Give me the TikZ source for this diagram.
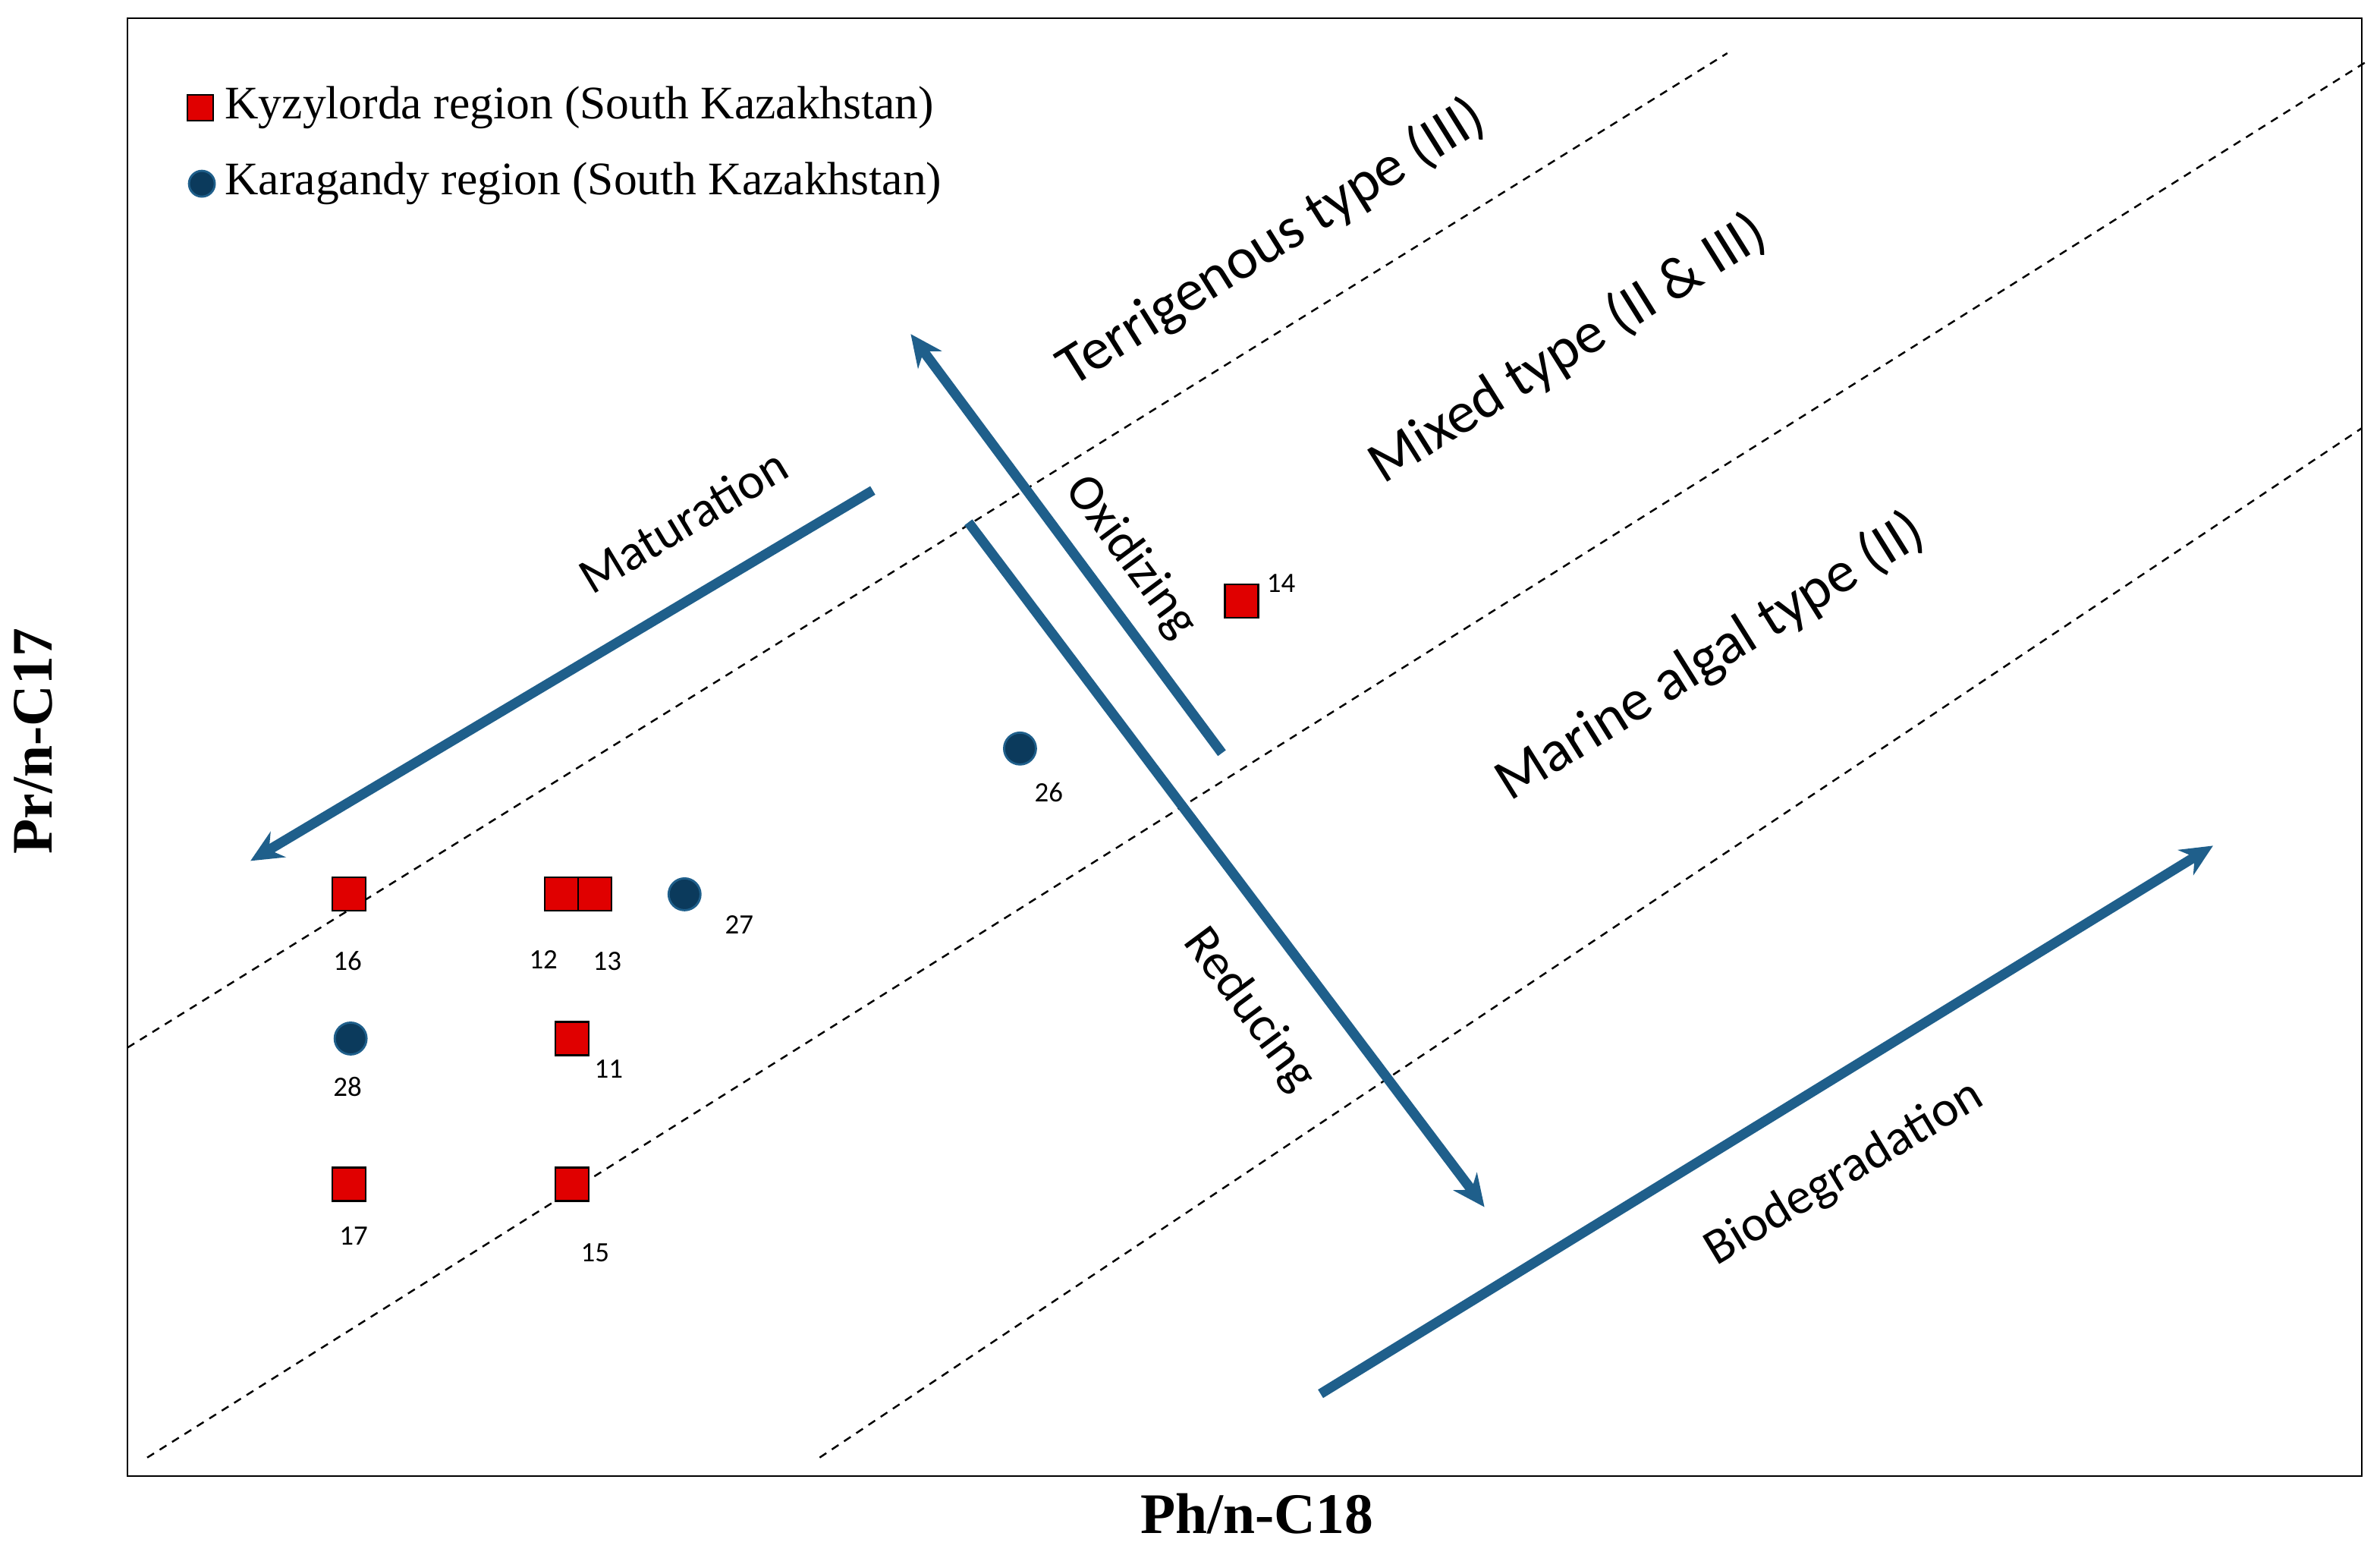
\documentclass[tikz,border=0pt]{standalone}
\usepackage{fontspec}
\setmainfont{Liberation Serif}
\newfontfamily\calfnt{Carlito}
\usetikzlibrary{arrows.meta}
\definecolor{ab}{HTML}{1F5F8B}
\definecolor{sq}{HTML}{E00000}
\definecolor{cb}{HTML}{0B3A5C}
\begin{document}
\begin{tikzpicture}[x=0.2mm,y=-0.2mm,
 arr/.style={ab,line width=1.3mm,-{Stealth[length=12pt,width=11pt]}},
 dl/.style={dashed,line width=0.7pt,dash pattern=on 3pt off 2.5pt},
 sqm/.style={draw=black,fill=sq,minimum size=22*0.2mm,inner sep=0pt,line width=0.6pt},
 cim/.style={circle,draw=ab,fill=cb,minimum size=21*0.2mm,inner sep=0pt,line width=0.8pt},
 lab/.style={font=\calfnt\fontsize{19}{21}\selectfont},
 big/.style={font=\calfnt\fontsize{22}{24}\selectfont},
 num/.style={font=\calfnt\fontsize{10.5}{12}\selectfont}]
\path[use as bounding box] (0,0) rectangle (1568,1024);
\draw[line width=0.6pt] (84,12) rectangle (1556,972);
\draw[dl] (84,690) -- (1138,35);
\draw[dl] (97,960) -- (1560,40);
\draw[dl] (540,960) -- (1556,282);
\coordinate (m1) at (575,323); \coordinate (m2) at (165,567);
\coordinate (o1) at (805,496); \coordinate (o2) at (600,220);
\coordinate (r1) at (638,344); \coordinate (r2) at (978,795);
\coordinate (b1) at (870,918); \coordinate (b2) at (1458,557);
\draw[arr] (m1) -- (m2);
\draw[arr] (o1) -- (o2);
\draw[arr] (r1) -- (r2);
\draw[arr] (b1) -- (b2);
\node[lab,rotate=31] (tM) at (450,343) {Maturation};
\node[big,rotate=32] (tT) at (838,160) {Terrigenous type (III)};
\node[big,rotate=32] (tX) at (1033,230) {Mixed type (II \& III)};
\node[big,rotate=32] (tA) at (1127,433) {Marine algal type (II)};
\node[lab,rotate=-53.4] (tO) at (745,367) {Oxidizing};
\node[lab,rotate=-53.4] (tR) at (823,665) {Reducing};
\node[lab,rotate=31] (tB) at (1215,773) {Biodegradation};
\node[sqm] (p16) at (230,589) {}; \node[num] (l16) at (229,633) {16};
\node[sqm] (p12) at (370,589) {}; \node[num] (l12) at (358,632) {12};
\node[sqm] (p13) at (392,589) {}; \node[num] (l13) at (400,633) {13};
\node[cim] (p27) at (451,589) {}; \node[num] (l27) at (487,609) {27};
\node[cim] (p28) at (231,684) {}; \node[num] (l28) at (229,716) {28};
\node[sqm] (p11) at (377,684) {}; \node[num] (l11) at (401,704) {11};
\node[sqm] (p17) at (230,780) {}; \node[num] (l17) at (233,814) {17};
\node[sqm] (p15) at (377,780) {}; \node[num] (l15) at (392,825) {15};
\node[sqm] (p14) at (818,396) {}; \node[num] (l14) at (844,384) {14};
\node[cim] (p26) at (672,493) {}; \node[num] (l26) at (691,522) {26};
\node[sqm,minimum size=17*0.2mm] (k1) at (132,71) {};
\node[anchor=west,font=\fontsize{17.5}{19}\selectfont] (kt1) at (142,71) {Kyzylorda region (South Kazakhstan)};
\node[cim,minimum size=17*0.2mm] (k2) at (133,121) {};
\node[anchor=west,font=\fontsize{17.5}{19}\selectfont] (kt2) at (142,121) {Karagandy region (South Kazakhstan)};
\node[font=\bfseries\fontsize{21.5}{23}\selectfont] (xl) at (828,997) {Ph/n-C18};
\node[font=\bfseries\fontsize{21.5}{23}\selectfont,rotate=90] (yl) at (22,488) {Pr/n-C17};
\end{tikzpicture}
\end{document}
